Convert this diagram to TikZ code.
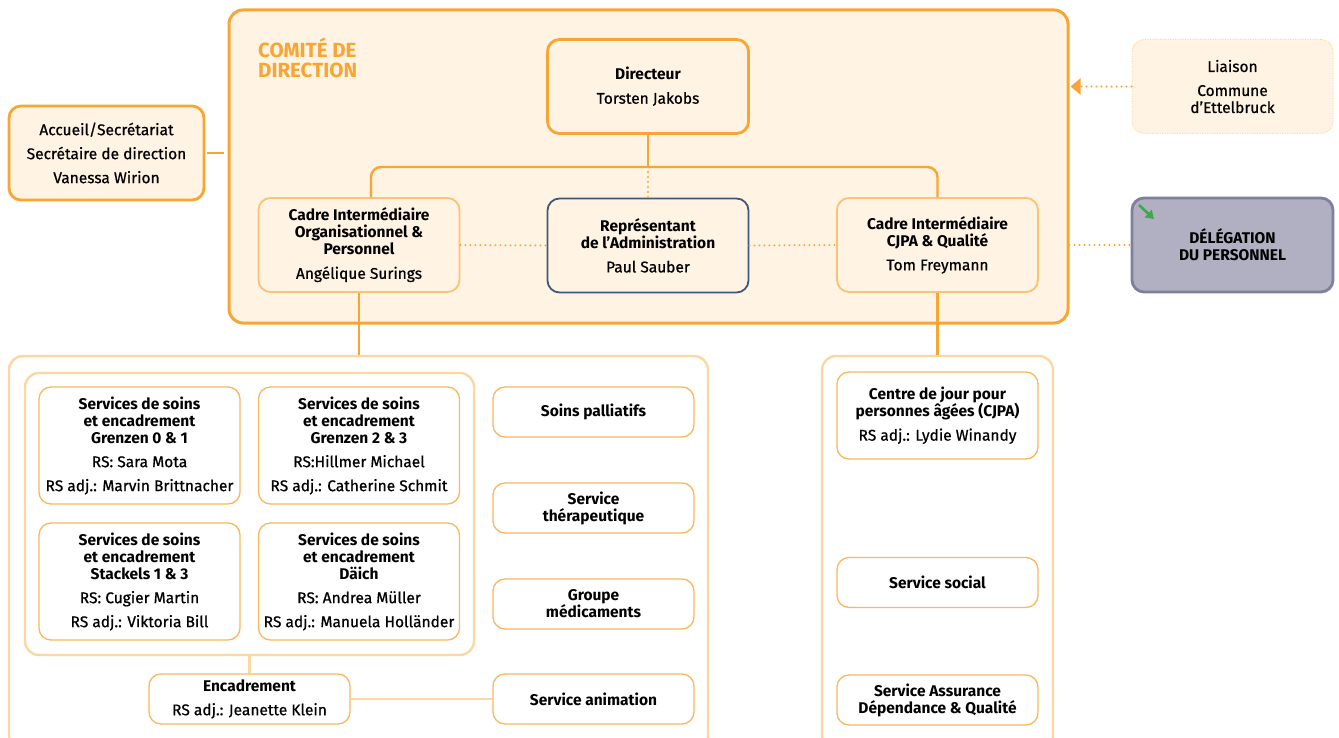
\documentclass[tikz,border=0pt]{standalone}
\usepackage{fontspec}
\setmainfont{Fira Sans}[UprightFeatures={FakeBold=0.7}]
\usetikzlibrary{arrows.meta,positioning}
\definecolor{orng}{HTML}{F9A533}
\definecolor{orngl}{HTML}{FBC274}
\definecolor{orngll}{HTML}{FDD7A2}
\definecolor{cream}{HTML}{FFF3E3}
\definecolor{navy}{HTML}{3F5877}
\definecolor{lilac}{HTML}{B1AFC2}
\definecolor{lilacd}{HTML}{7F7F9E}
\definecolor{grn}{HTML}{3CAA49}
\tikzset{
  box/.style={draw=orngl, line width=1.8pt, fill=cream, rounded corners=12pt,
    minimum width=201pt, minimum height=94pt, align=center, inner sep=2pt,
    font=\fontsize{15.5}{17}\selectfont\bfseries},
  thick box/.style={box, draw=orng, line width=2.8pt},
  svc/.style={box, draw=orng!80, line width=1.3pt, fill=white, minimum height=50pt},
  group/.style={draw=orngll, line width=2.4pt, rounded corners=14pt, fill=white},
  link/.style={draw=orng, line width=2.4pt},
  soft link/.style={draw=orngll, line width=2.4pt},
  dots/.style={draw=orng, line width=2.2pt, line cap=round, dash pattern=on 0pt off 5pt}
}
\begin{document}
\begin{tikzpicture}[x=1pt, y=-1pt]
  \useasboundingbox (0,0) rectangle (1339,738);

  % Comite de direction
  \node[draw=orng, line width=3pt, fill=cream, rounded corners=14pt,
        minimum width=839pt, minimum height=313pt] (comite) at (648.5,166.5) {};
  \node[anchor=north west, align=left, text=orng, inner sep=0pt,
        font=\fontsize{20.5}{20}\selectfont\bfseries] (titre) at (258,38) {COMITÉ DE\\DIRECTION};

  \node[thick box] (dir) at (648,86.5) {Directeur\\[7pt]\textmd{Torsten Jakobs}};
  \node[thick box, minimum width=195pt] (accueil) at (106.5,153)
    {\textmd{Accueil/Secrétariat}\\[7pt]\textmd{Secrétaire de direction}\\[7pt]\textmd{Vanessa Wirion}};
  \node[box] (cadreL) at (359,245)
    {Cadre Intermédiaire\\Organisationnel \&\\Personnel\\[7pt]\textmd{Angélique Surings}};
  \node[box, draw=navy] (rep) at (648,245.5)
    {Représentant\\de l’Administration\\[7pt]\textmd{Paul Sauber}};
  \node[box] (cadreR) at (937.5,245)
    {Cadre Intermédiaire\\CJPA \& Qualité\\[7pt]\textmd{Tom Freymann}};

  % Liaison and delegation
  \node[box, draw=orngll, line width=1pt, dash pattern=on 1pt off 1.5pt] (liaison) at (1232.5,86.5)
    {\textmd{Liaison}\\[7pt]\textmd{Commune}\\\textmd{d’Ettelbruck}};
  \node[box, draw=lilacd, line width=2.8pt, fill=lilac] (deleg) at (1232.5,245)
    {DÉLÉGATION\\DU PERSONNEL};
  \draw[grn, line width=2.6pt, -{Triangle[length=8pt, width=10pt]}] (1139,205) -- (1154,219);

  % Connectors inside the comite
  \coordinate (bar) at (648,167);
  \draw[link] (dir.south) -- (bar);
  \draw[link, rounded corners=10pt] ([xshift=12pt]cadreL.north) -- ([xshift=12pt]cadreL.north |- bar)
    -- (cadreR.north |- bar) -- (cadreR.north);
  \draw[dots] (bar) -- (rep.north);
  \draw[dots] (cadreL.east) -- (rep.west);
  \draw[dots] (rep.east) -- (cadreR.west);
  \draw[dots] (comite.east |- deleg) -- (deleg.west);
  \draw[dots, -{Triangle[length=10pt, width=16pt]}, shorten >=-1pt] (liaison.west) -- ([xshift=2pt]comite.east |- liaison);
  \draw[link, shorten <=2pt, shorten >=4pt] (accueil.east) -- (comite.west |- accueil);

  % Left group
  \node[group, minimum width=699pt, minimum height=394pt] (grpL) at (358.5,553) {};
  \node[group, minimum width=449pt, minimum height=282pt] (inner) at (249.5,514) {};
  \draw[link] (cadreL.south) -- (cadreL.south |- grpL.north);

  \node[svc, minimum height=117pt] (svcA) at (139.5,445.5)
    {Services de soins\\et encadrement\\Grenzen 0 \& 1\\[7pt]\textmd{RS: Sara Mota}\\[7pt]\textmd{RS adj.: Marvin Brittnacher}};
  \node[svc, minimum height=117pt] (svcB) at (359,445.5)
    {Services de soins\\et encadrement\\Grenzen 2 \& 3\\[7pt]\textmd{RS:Hillmer Michael}\\[7pt]\textmd{RS adj.: Catherine Schmit}};
  \node[svc, minimum height=117pt] (svcC) at (139.5,581.5)
    {Services de soins\\et encadrement\\Stackels 1 \& 3\\[7pt]\textmd{RS: Cugier Martin}\\[7pt]\textmd{RS adj.: Viktoria Bill}};
  \node[svc, minimum height=117pt] (svcD) at (359,581.5)
    {Services de soins\\et encadrement\\Däich\\[7pt]\textmd{RS: Andrea Müller}\\[7pt]\textmd{RS adj.: Manuela Holländer}};

  \node[svc] (encad) at (249.5,699) {Encadrement\\[7pt]\textmd{RS adj.: Jeanette Klein}};
  \node[svc] (palli) at (593.5,412) {Soins palliatifs};
  \node[svc] (thera) at (593.5,508) {Service\\thérapeutique};
  \node[svc] (medic) at (593.5,604) {Groupe\\médicaments};
  \node[svc] (anim) at (593.5,699) {Service animation};
  \draw[soft link] (inner.south) -- (encad.north);
  \draw[soft link] (encad.east) -- (encad.east -| anim.west);

  % Right group
  \node[group, minimum width=231pt, minimum height=394pt] (grpR) at (937.5,553) {};
  \draw[link] (cadreR.south) -- (cadreR.south |- grpR.north);
  \node[svc, minimum height=87pt] (cjpa) at (937.5,415.5)
    {Centre de jour pour\\personnes âgées (CJPA)\\[7pt]\textmd{RS adj.: Lydie Winandy}};
  \node[svc] (social) at (937.5,582.5) {Service social};
  \node[svc] (assur) at (937.5,700) {Service Assurance\\Dépendance \& Qualité};
\end{tikzpicture}
\end{document}
